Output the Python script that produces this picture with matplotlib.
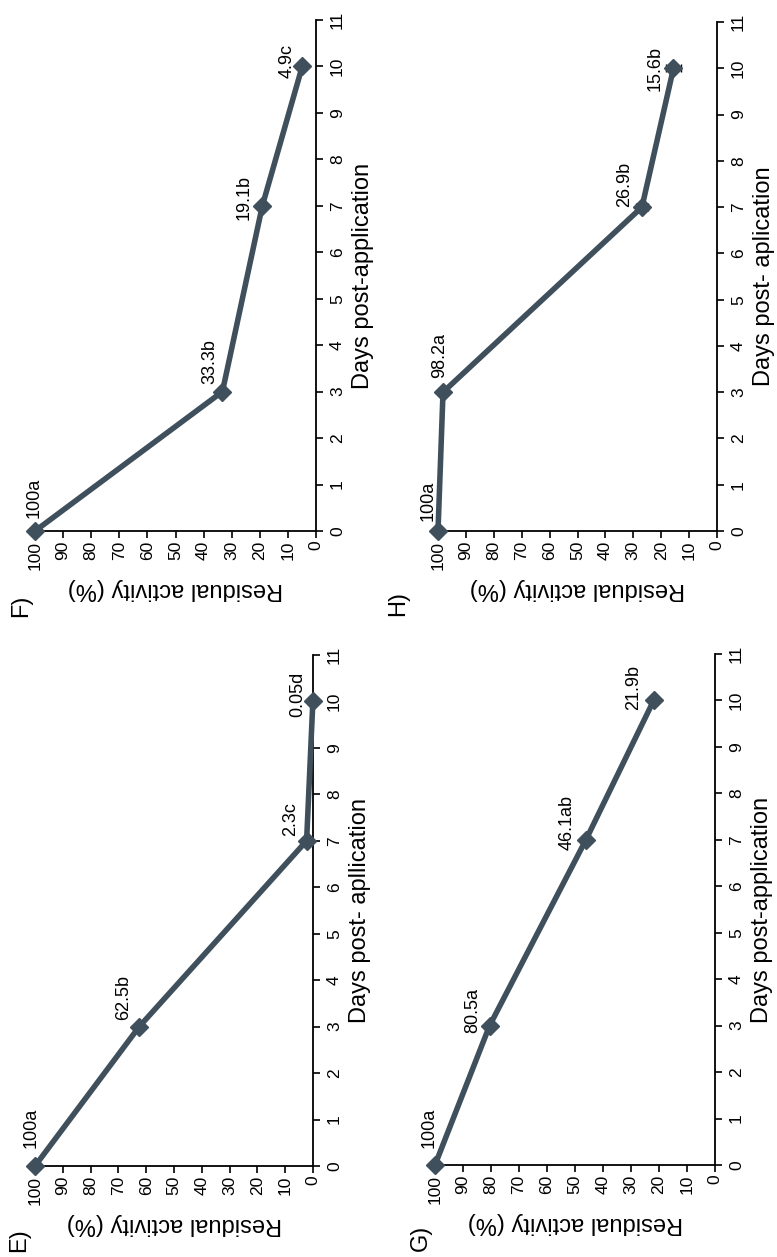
import matplotlib
matplotlib.use("Agg")
import matplotlib.pyplot as plt

plt.rcParams['font.family'] = ['Liberation Sans', 'DejaVu Sans']

days = [0, 3, 7, 10]

e_values = [100, 62.5, 2.3, 0.05]
e_labels = ["100a", "62.5b", "2.3c", "0.05d"]
f_values = [100, 33.3, 19.1, 4.9]
f_labels = ["100a", "33.3b", "19.1b", "4.9c"]
g_values = [100, 80.5, 46.1, 21.9]
g_labels = ["100a", "80.5a", "46.1ab", "21.9b"]
h_values = [100, 98.2, 26.9, 15.6]
h_labels = ["100a", "98.2a", "26.9b", "15.6b"]
h_errors = [0, 0, 2.2, 2.7]

residual_ticks = list(range(0, 101, 10))
day_ticks = list(range(0, 12))

W, H = 777, 1257
LINE = "#3f505c"

fig = plt.figure(figsize=(W / 100, H / 100), dpi=100)


def add_panel(box, values, labels, offsets, letter, letter_xy, xlabel_days,
              errors=None):
    left, right, bottom, top = box
    ax = fig.add_axes([left / W, 1 - bottom / H, (right - left) / W,
                       (bottom - top) / H])
    if errors is not None:
        ax.errorbar(values, days, xerr=errors, fmt='none', ecolor='black',
                    elinewidth=1.0, capsize=3, capthick=1.0, clip_on=False,
                    zorder=2)
    ax.plot(values, days, color=LINE, lw=4.0, marker='D', markersize=9,
            markerfacecolor=LINE, markeredgecolor=LINE, clip_on=False,
            zorder=3)
    ax.set_xlim(100, 0)
    ax.set_ylim(0, 11)
    ax.set_xticks(residual_ticks)
    ax.set_yticks(day_ticks)
    for s in ('top', 'left'):
        ax.spines[s].set_visible(False)
    for s in ('bottom', 'right'):
        ax.spines[s].set_linewidth(1.3)
    ax.yaxis.tick_right()
    ax.yaxis.set_label_position('right')
    ax.tick_params(axis='x', direction='out', length=5, width=1.2, pad=2,
                   labelsize=12.5, labelrotation=90)
    ax.tick_params(axis='y', direction='out', length=5, width=1.2, pad=5,
                   labelsize=12.5, labelrotation=90)
    for t in ax.get_yticklabels():
        t.set_va('center')
    ax.set_xlabel("Residual activity (%)", fontsize=17, rotation=180,
                  labelpad=6)
    ax.set_ylabel(xlabel_days, fontsize=17, rotation=90, labelpad=5)
    for v, d, lab, (dx, dy) in zip(values, days, labels, offsets):
        ax.annotate(lab, xy=(v, d), xytext=(dx * 0.72, -dy * 0.72),
                    textcoords='offset points', rotation=90, ha='center',
                    va='center', fontsize=13, annotation_clip=False)
    fig.text(letter_xy[0] / W, 1 - letter_xy[1] / H, letter, rotation=90,
             fontsize=17, ha='center', va='center')
    return ax


add_panel((35, 316, 531, 20), f_values, f_labels,
          [(-1, -33), (-13, -30), (-18, -8), (-15, -5)],
          "F)", (21, 606), "Days post-application")
add_panel((35, 313, 1166, 655), e_values, e_labels,
          [(-4, -38), (-16, -29), (-16, -22), (-15, -7)],
          "E)", (19, 1240), "Days post- apllication")
add_panel((438, 717, 531, 22), h_values, h_labels,
          [(-10, -30), (-3, -37), (-17, -23), (-18, 0)],
          "H)", (398, 603), "Days post- aplication", errors=h_errors)
add_panel((435, 715, 1165, 654), g_values, g_labels,
          [(-6, -37), (-17, -15), (-19, -17), (-20, -13)],
          "G)", (421, 1238), "Days post-application")

fig.savefig("out.png", dpi=100)
